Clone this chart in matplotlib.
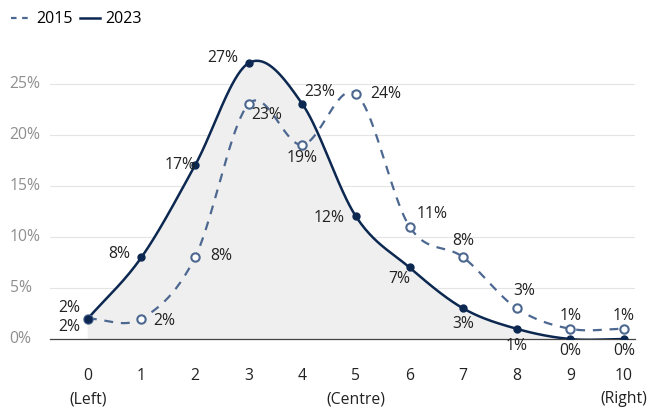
import numpy as np
import matplotlib
matplotlib.use("Agg")
import matplotlib.pyplot as plt
from matplotlib.lines import Line2D

plt.rcParams['font.family'] = ['Open Sans', 'DejaVu Sans']

# left-right self placement, share of respondents (%)
positions = list(range(11))
tick_labels = ["0\n(Left)", "1", "2", "3", "4", "5\n(Centre)", "6", "7", "8", "9", "10\n(Right)"]
share_2015 = [2, 2, 8, 23, 19, 24, 11, 8, 3, 1, 1]
share_2023 = [2, 8, 17, 27, 23, 12, 7, 3, 1, 0, 0]

# label offsets in pixels (dx, dy up)
off_2015 = [(-19, -8), (23, -2), (26, 1), (18, -11), (0, -13), (30, 0),
            (23, 13), (0, 16), (8, 17), (0, 13), (0, 13)]
off_2023 = [(-19, 11), (-22, 3), (-15, 0), (-26, 5), (17, 12), (-27, -2),
            (-10, -12), (0, -16), (0, -17), (0, -12), (0, -12)]

C2015 = "#4d6890"
C2023 = "#0c2851"
FS = 11.3


def catmull_rom(x, y, n=40):
    x = np.asarray(x, float)
    y = np.asarray(y, float)
    px = np.concatenate([[2 * x[0] - x[1]], x, [2 * x[-1] - x[-2]]])
    py = np.concatenate([[2 * y[0] - y[1]], y, [2 * y[-1] - y[-2]]])
    xs, ys = [], []
    t = np.linspace(0, 1, n, endpoint=False)
    for i in range(1, len(px) - 2):
        for p, out in ((px, xs), (py, ys)):
            p0, p1, p2, p3 = p[i - 1], p[i], p[i + 1], p[i + 2]
            out.append(0.5 * (2 * p1 + (-p0 + p2) * t
                              + (2 * p0 - 5 * p1 + 4 * p2 - p3) * t ** 2
                              + (-p0 + 3 * p1 - 3 * p2 + p3) * t ** 3))
    xs.append([x[-1]])
    ys.append([y[-1]])
    return np.concatenate(xs), np.concatenate(ys)


fig = plt.figure(figsize=(6.55, 4.16), dpi=100)
ax = fig.add_axes([0.076, 0.185, 0.893, 0.683])

sx15, sy15 = catmull_rom(positions, share_2015)
sx23, sy23 = catmull_rom(positions, share_2023)

ax.fill_between(sx23, 0, sy23, color="#efefef", zorder=1)
ax.plot(sx15, sy15, color=C2015, lw=1.6, dashes=(4, 3.5), zorder=3)
ax.plot(sx23, sy23, color=C2023, lw=1.8, zorder=4)
ax.plot(positions, share_2015, 'o', ms=6, mfc="white", mec=C2015, mew=1.5, zorder=5)
ax.plot(positions, share_2023, 'o', ms=5, color=C2023, zorder=6)

for x, v, (dx, dy) in zip(positions, share_2015, off_2015):
    ax.annotate(f"{v}%", (x, v), xytext=(dx * 0.72, dy * 0.72), textcoords="offset points",
                ha="center", va="center", fontsize=FS, color="#222222", zorder=7)
for x, v, (dx, dy) in zip(positions, share_2023, off_2023):
    ax.annotate(f"{v}%", (x, v), xytext=(dx * 0.72, dy * 0.72), textcoords="offset points",
                ha="center", va="center", fontsize=FS, color="#222222", zorder=7)

ax.set_xlim(-0.71, 10.2)
ax.set_ylim(0, 27.8)
ax.set_yticks([0, 5, 10, 15, 20, 25])
ax.set_yticklabels([f"{t}%" for t in [0, 5, 10, 15, 20, 25]])
ax.set_xticks(positions)
ax.set_xticklabels(tick_labels, linespacing=1.6)
ax.tick_params(axis="y", length=0, pad=29, labelsize=FS, labelcolor="#8f8f8f")
ax.tick_params(axis="x", length=0, pad=21, labelsize=FS, labelcolor="#222222")
for lab in ax.get_yticklabels():
    lab.set_ha("left")
    lab.set_va("center")

ax.grid(axis="y", color="#e4e4e4", lw=0.8)
ax.set_axisbelow(True)
for s in ["top", "right", "left"]:
    ax.spines[s].set_visible(False)
ax.spines["bottom"].set_color("#444444")
ax.spines["bottom"].set_linewidth(0.9)
ax.spines["bottom"].set_zorder(2)

handles = [Line2D([], [], color=C2015, lw=1.6, dashes=(2.5, 2.5)),
           Line2D([], [], color=C2023, lw=1.8)]
fig.legend(handles, ["2015", "2023"], loc="upper left", bbox_to_anchor=(0.0, 1.0),
           ncol=2, frameon=False, handlelength=1.3, handletextpad=0.3,
           columnspacing=0.4, fontsize=11.5, borderaxespad=0.3)

fig.savefig("out.png", dpi=100)
